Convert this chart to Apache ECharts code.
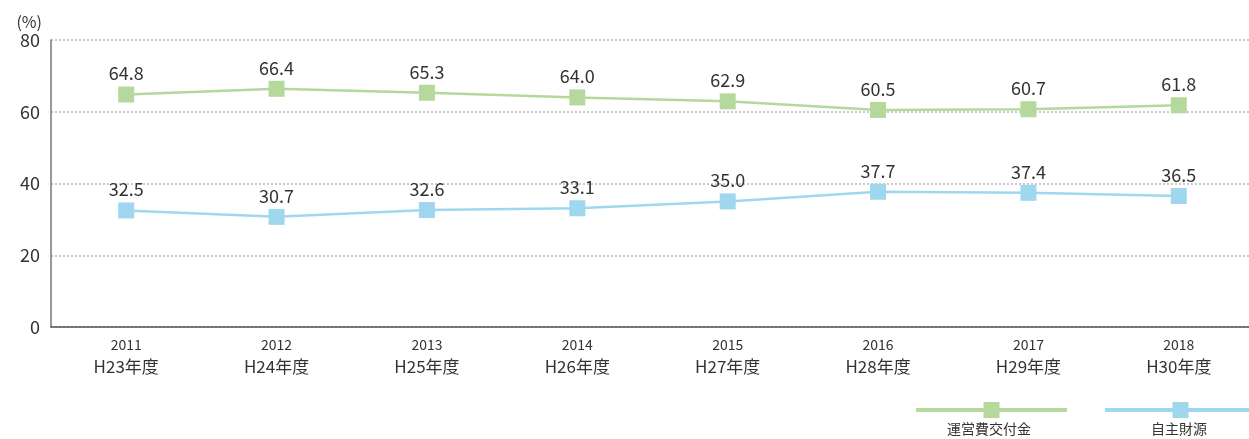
<!DOCTYPE html>
<html>
<head>
<meta charset="utf-8">
<script src="https://cdn.jsdelivr.net/npm/echarts@6/dist/echarts.min.js"></script>
<style>
  html, body { margin: 0; padding: 0; background: #fff; }
  #chart { width: 1249px; height: 439px; }
</style>
</head>
<body>
<div id="chart"></div>
<script>
// 年度ラベル
var years = ["2011", "2012", "2013", "2014", "2015", "2016", "2017", "2018"];
var fiscalYears = ["H23年度", "H24年度", "H25年度", "H26年度", "H27年度", "H28年度", "H29年度", "H30年度"];
// 運営費交付金 / 自主財源 (%)
var grantRatio = [64.8, 66.4, 65.3, 64.0, 62.9, 60.5, 60.7, 61.8];
var ownRatio = [32.5, 30.7, 32.6, 33.1, 35.0, 37.7, 37.4, 36.5];
var seriesNames = ["運営費交付金", "自主財源"];

var font = "'Noto Sans CJK JP', sans-serif";
var green = "#b5d99d";
var blue = "#9fd7ef";

var chart = echarts.init(document.getElementById("chart"));

function lineSeries(name, values, color) {
  return {
    name: name,
    type: "line",
    data: values,
    symbol: "rect",
    symbolSize: 16,
    lineStyle: { color: color, width: 2.5 },
    itemStyle: { color: color },
    label: {
      show: true,
      position: "top",
      distance: 4,
      color: "#333",
      fontFamily: font,
      fontSize: 18,
      formatter: function (p) {
        return p.value.toFixed(1);
      }
    },
    emphasis: { disabled: true }
  };
}

function legendFor(name, left) {
  return {
    data: [name],
    left: left,
    top: 400,
    padding: 0,
    itemWidth: 151,
    itemHeight: 20,
    lineStyle: { width: 4 },
    formatter: function () { return ""; },
    selectedMode: false
  };
}

var option = {
  backgroundColor: "#fff",
  animation: false,
  grid: { left: 51, width: 1203, top: 40, bottom: 112, containLabel: false, outerBoundsMode: "none" },
  legend: [legendFor(seriesNames[0], 914), legendFor(seriesNames[1], 1103)],
  graphic: [
    {
      type: "text",
      left: 991 - 44,
      top: 422,
      style: { text: seriesNames[0], font: "14px 'Noto Sans CJK JP'", fill: "#333" }
    },
    {
      type: "text",
      left: 1180 - 29,
      top: 422,
      style: { text: seriesNames[1], font: "14px 'Noto Sans CJK JP'", fill: "#333" }
    }
  ],
  xAxis: {
    type: "category",
    data: years.map(function (y, i) { return y + "\n" + fiscalYears[i]; }),
    boundaryGap: true,
    axisLine: { lineStyle: { color: "#555", width: 1.5 } },
    axisTick: { inside: true, length: 6, lineStyle: { color: "#555", width: 1 } },
    axisLabel: {
      margin: 8,
      fontFamily: font,
      fontSize: 16,
      color: "#333",
      formatter: function (v) {
        var parts = v.split("\n");
        return "{yr|" + parts[0] + "}\n{fy|" + parts[1] + "}";
      },
      rich: {
        yr: { fontFamily: font, fontSize: 14, color: "#333", lineHeight: 20 },
        fy: { fontFamily: font, fontSize: 17, color: "#333", lineHeight: 24 }
      }
    }
  },
  yAxis: {
    type: "value",
    min: 0,
    max: 80,
    interval: 20,
    name: "(%)",
    nameLocation: "end",
    nameGap: 10,
    nameTextStyle: { fontFamily: font, fontSize: 16, color: "#333", align: "right", padding: [0, 9, 0, 0] },
    axisLine: { show: true, lineStyle: { color: "#777", width: 1.5 } },
    axisTick: { show: false },
    axisLabel: { fontFamily: font, fontSize: 18, color: "#333", margin: 11 },
    splitLine: { lineStyle: { color: "#bbb", type: [2, 2], width: 1.5 } }
  },
  series: [
    lineSeries(seriesNames[0], grantRatio, green),
    lineSeries(seriesNames[1], ownRatio, blue)
  ]
};

chart.setOption(option);
</script>
</body>
</html>
